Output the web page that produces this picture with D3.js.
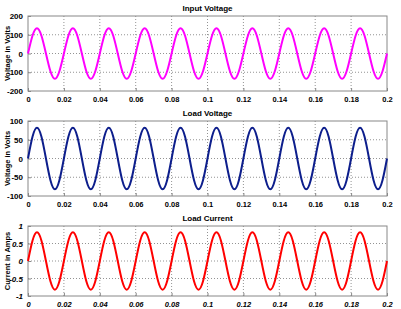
<!DOCTYPE html>
<html><head><meta charset="utf-8">
<script src="https://cdn.jsdelivr.net/npm/d3@7"></script>
<style>body{margin:0;background:#fff}svg{display:block}</style>
</head><body>
<script>
// time samples every 0.0025 s, 0..0.2
const timeStep = 0.0025;
const xTicks = [0,0.02,0.04,0.06,0.08,0.1,0.12,0.14,0.16,0.18,0.2];
const xTickLabels = ["0","0.02","0.04","0.06","0.08","0.1","0.12","0.14","0.16","0.18","0.2"];

// Input voltage (V): peak ~135
const inputVoltage = [
 0,95,135,95,0,-95,-135,-95,
 0,95,135,95,0,-95,-135,-95,
 0,95,135,95,0,-95,-135,-95,
 0,95,135,95,0,-95,-135,-95,
 0,95,135,95,0,-95,-135,-95,
 0,95,135,95,0,-95,-135,-95,
 0,95,135,95,0,-95,-135,-95,
 0,95,135,95,0,-95,-135,-95,
 0,95,135,95,0,-95,-135,-95,
 0,95,135,95,0,-95,-135,-95,
 0];
// Load voltage (V), peak ~82
const loadVoltage = [
 0,58,82,58,0,-58,-82,-58,
 0,58,82,58,0,-58,-82,-58,
 0,58,82,58,0,-58,-82,-58,
 0,58,82,58,0,-58,-82,-58,
 0,58,82,58,0,-58,-82,-58,
 0,58,82,58,0,-58,-82,-58,
 0,58,82,58,0,-58,-82,-58,
 0,58,82,58,0,-58,-82,-58,
 0,58,82,58,0,-58,-82,-58,
 0,58,82,58,0,-58,-82,-58,
 0];
// Load current (A), peak ~0.82
const loadCurrent = [
 0,0.58,0.82,0.58,0,-0.58,-0.82,-0.58,
 0,0.58,0.82,0.58,0,-0.58,-0.82,-0.58,
 0,0.58,0.82,0.58,0,-0.58,-0.82,-0.58,
 0,0.58,0.82,0.58,0,-0.58,-0.82,-0.58,
 0,0.58,0.82,0.58,0,-0.58,-0.82,-0.58,
 0,0.58,0.82,0.58,0,-0.58,-0.82,-0.58,
 0,0.58,0.82,0.58,0,-0.58,-0.82,-0.58,
 0,0.58,0.82,0.58,0,-0.58,-0.82,-0.58,
 0,0.58,0.82,0.58,0,-0.58,-0.82,-0.58,
 0,0.58,0.82,0.58,0,-0.58,-0.82,-0.58,
 0];

const titles = ["Input Voltage","Load Voltage","Load Current"];
const yLabels = ["Voltage in Volts","Voltage in Volts","Current in Amps"];
const yTicks1 = [-200,-100,0,100,200];
const yTicks2 = [-100,-50,0,50,100];
const yTicks3 = [-1,-0.5,0,0.5,1];
const yTickLabels1 = ["-200","-100","0","100","200"];
const yTickLabels2 = ["-100","-50","0","50","100"];
const yTickLabels3 = ["-1","-0.5","0","0.5","1"];
const colors = ["#ff00ff","#0d1e8c","#ff0000"];

const panels = [
  {title:titles[0], ylab:yLabels[0], data:inputVoltage, yt:yTicks1, ytl:yTickLabels1, color:colors[0], top:16, bottom:91, italic:false},
  {title:titles[1], ylab:yLabels[1], data:loadVoltage, yt:yTicks2, ytl:yTickLabels2, color:colors[1], top:121, bottom:196, italic:false},
  {title:titles[2], ylab:yLabels[2], data:loadCurrent, yt:yTicks3, ytl:yTickLabels3, color:colors[2], top:226, bottom:296, italic:true}
];

const W=401,H=309, L=28, R=387;
const FONT = "'Liberation Sans', Arial, sans-serif";
const svg = d3.select("body").append("svg").attr("width",W).attr("height",H)
  .style("font-family",FONT);

const x = d3.scaleLinear().domain([0,0.2]).range([L,R]);

panels.forEach(p=>{
  const y = d3.scaleLinear().domain([p.yt[0],p.yt[p.yt.length-1]]).range([p.bottom,p.top]);
  const g = svg.append("g");
  // grid
  g.selectAll(".gx").data(xTicks.slice(1,-1)).join("line")
    .attr("x1",d=>x(d)).attr("x2",d=>x(d)).attr("y1",p.top).attr("y2",p.bottom)
    .attr("stroke","#777").attr("stroke-width",0.8).attr("stroke-dasharray","1,2");
  g.selectAll(".gy").data(p.yt.slice(1,-1)).join("line")
    .attr("y1",d=>y(d)).attr("y2",d=>y(d)).attr("x1",L).attr("x2",R)
    .attr("stroke","#777").attr("stroke-width",0.8).attr("stroke-dasharray","1,2");
  // frame
  g.append("rect").attr("x",L).attr("y",p.top).attr("width",R-L).attr("height",p.bottom-p.top)
    .attr("fill","none").attr("stroke","#888").attr("stroke-width",1);
  const xa = d3.axisBottom(x).tickValues(xTicks).tickFormat((d,i)=>xTickLabels[i]).tickSizeInner(-3).tickSizeOuter(0).tickPadding(6);
  const gx = g.append("g").attr("transform",`translate(0,${p.bottom})`).call(xa);
  gx.select(".domain").remove();
  gx.selectAll("line").attr("stroke","#888");
  gx.selectAll("text").attr("font-size","7.5px").attr("font-weight","bold")
    .attr("font-style",p.italic?"italic":"normal").attr("fill","#000").attr("font-family",FONT);
  const ya = d3.axisLeft(y).tickValues(p.yt).tickFormat((d,i)=>p.ytl[i]).tickSizeInner(-3).tickSizeOuter(0).tickPadding(5);
  const gy = g.append("g").attr("transform",`translate(${L},0)`).call(ya);
  gy.select(".domain").remove();
  gy.selectAll("line").attr("stroke","#888");
  gy.selectAll("text").attr("font-size","8px").attr("font-weight","bold")
    .attr("font-style",p.italic?"italic":"normal").attr("fill","#000").attr("font-family",FONT);
  // line
  const line = d3.line().x((d,i)=>x(i*timeStep)).y(d=>y(d)).curve(d3.curveNatural);
  g.append("path").datum(p.data).attr("d",line).attr("fill","none")
    .attr("stroke",p.color).attr("stroke-width",2);
  // title
  g.append("text").attr("x",(L+R)/2).attr("y",p.top-5).attr("text-anchor","middle")
    .attr("font-size","8px").attr("font-weight","bold").text(p.title);
  // y label
  g.append("text").attr("transform",`translate(10,${(p.top+p.bottom)/2}) rotate(-90)`)
    .attr("text-anchor","middle").attr("font-size","7.5px").attr("font-weight","bold").text(p.ylab);
});
</script>
</body></html>
